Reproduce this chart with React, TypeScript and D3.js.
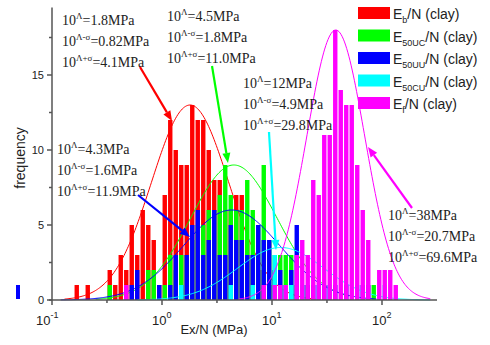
import React from 'react';
import * as d3 from 'd3';

// histogram bins: bin k spans log10(x) in [binStart + k*binStep, binStart + (k+1)*binStep]
const binStart = -1;
const binStep = 0.05;

// frequencies, 10 bins per row (row 1 starts at 10^-1, row 3 at 10^0, row 5 at 10^1, row 7 at 10^2)
const ebCounts = [
  0, 0, 0, 0, 1, 0, 1, 0, 0, 0,
  2, 1, 3, 2, 5, 3, 6, 5, 4, 1,
  7, 12, 10, 9, 9, 13, 12, 12, 10, 8,
  8, 6, 6, 7, 7, 4, 3, 2, 2, 1,
  2, 1, 0, 0, 0, 0, 0, 0, 0, 0,
  0, 0, 0, 0, 0, 0, 0, 0, 0, 0,
  0, 0, 0, 0,
];
const e50ucCounts = [
  0, 0, 0, 0, 0, 0, 0, 0, 0, 0,
  1, 0, 0, 0, 0, 0, 0, 2, 2, 0,
  1, 3, 2, 3, 3, 4, 5, 5, 6, 6,
  7, 9, 7, 6, 6, 8, 6, 5, 9, 4,
  3, 3, 3, 3, 1, 1, 1, 0, 0, 0,
  0, 0, 0, 0, 0, 0, 0, 0, 1, 0,
  0, 0, 0, 0,
];
const e50uuCounts = [
  0, 0, 0, 0, 0, 0, 0, 0, 0, 0,
  0, 0, 0, 0, 1, 2, 0, 0, 0, 1,
  0, 1, 3, 1, 3, 5, 6, 3, 4, 6,
  3, 3, 5, 4, 4, 3, 3, 5, 4, 4,
  2, 2, 1, 2, 5, 1, 1, 1, 1, 1,
  1, 1, 0, 1, 0, 0, 1, 1, 0, 0,
  0, 0, 0, 0,
];
const e50cuCounts = [
  0, 0, 0, 0, 0, 0, 0, 0, 0, 0,
  0, 0, 0, 0, 0, 0, 0, 0, 0, 0,
  0, 0, 0, 1, 0, 0, 0, 0, 0, 0,
  0, 0, 1, 0, 0, 0, 1, 0, 0, 0,
  3, 1, 1, 1, 0, 1, 0, 0, 1, 0,
  1, 0, 0, 0, 0, 1, 0, 0, 0, 0,
  1, 0, 0, 0,
];
const efCounts = [
  0, 0, 0, 0, 0, 0, 0, 0, 0, 0,
  0, 0, 0, 1, 0, 0, 0, 0, 0, 0,
  0, 0, 0, 0, 0, 0, 0, 0, 0, 0,
  0, 0, 0, 0, 0, 0, 0, 0, 1, 0,
  1, 1, 1, 0, 3, 4, 3, 8, 7, 11,
  11, 18, 14, 13, 13, 9, 6, 4, 0, 2,
  2, 2, 1, 0,
];

const seriesCounts = [ebCounts, e50ucCounts, e50uuCounts, e50cuCounts, efCounts];
const seriesSubs = ['b', '50UC', '50UU', '50CU', 'f'];
const seriesColors = ['#ff0000', '#00ff00', '#0000ff', '#00ffff', '#ff00ff'];

// lognormal fits (MPa) as written in the annotations
const fitMedian = [1.8, 4.5, 4.3, 12, 38];
const fitLower = [0.82, 1.8, 1.6, 4.9, 20.7];
const fitUpper = [4.1, 11.0, 11.9, 29.8, 69.6];
const fitPeak = [13, 9, 6, 3.5, 18];
const fitFrom = [0.13, 0.25, 0.12, 0.6, 5];
const fitTo = [25, 50, 90, 280, 280];

// annotation text blocks and their arrows
const noteAt = [[62, 25], [167, 21], [57, 154], [243, 88], [388, 220]];
const arrowFrom = [[140, 67], [212, 66], [138, 195], [269, 132], [412, 208]];
const arrowTo = [[172, 121], [228, 163], [190, 237], [276, 250], [368, 147]];

const xTicks = [0.1, 1, 10, 100];
const xMinorTicks = [0.316, 3.16, 31.6];
const yTicks = [0, 5, 10, 15];
const yMinorTicks = [2.5, 7.5, 12.5, 17.5];

const W = 490, H = 345;
const x = d3.scaleLog().domain([0.1, Math.pow(10, 2.5)]).range([52, 437]);
const y = d3.scaleLinear().domain([0, 19.5]).range([300, 7.5]);

const sans = 'Arial, "Liberation Sans", sans-serif';
const serif = '"Times New Roman", "Liberation Serif", serif';

function Arrow({ from, to, color }: { from: number[]; to: number[]; color: string }) {
  const dx = to[0] - from[0], dy = to[1] - from[1];
  const len = Math.sqrt(dx * dx + dy * dy);
  const ux = dx / len, uy = dy / len;
  const hl = 10, hw = 4;
  const bx = to[0] - ux * hl, by = to[1] - uy * hl;
  const pts = [
    [to[0], to[1]],
    [bx - uy * hw, by + ux * hw],
    [bx + uy * hw, by - ux * hw],
  ].map(p => p.join(',')).join(' ');
  return (
    <g>
      <line x1={from[0]} y1={from[1]} x2={bx} y2={by} stroke={color} strokeWidth={2.2} />
      <polygon points={pts} fill={color} />
    </g>
  );
}

function Note({ at, med, lo, hi }: { at: number[]; med: number; lo: number; hi: number }) {
  const rows = [['Λ', med], ['Λ-σ', lo], ['Λ+σ', hi]];
  return (
    <g fontFamily={serif} fontSize={14} fill="#222">
      {rows.map((r, i) => (
        <text key={i} x={at[0]} y={at[1] + i * 21}>
          10<tspan fontSize={9} dy={-6}>{r[0]}</tspan>
          <tspan dy={6}>={String(r[1] === 11 ? '11.0' : r[1])}MPa</tspan>
        </text>
      ))}
    </g>
  );
}

export default function App() {
  const line = d3.line<number[]>().x(d => d[0]).y(d => d[1]);

  const bars = (counts: number[], color: string) =>
    counts.map((c, k) => {
      if (!c) return null;
      const lo = binStart + k * binStep;
      const x0 = x(Math.pow(10, lo + binStep * 0.1));
      const x1 = x(Math.pow(10, lo + binStep * 0.9));
      return <rect key={k} x={x0} y={y(c)} width={x1 - x0} height={y(0) - y(c)} fill={color} />;
    });

  const curve = (s: number) => {
    const mu = Math.log10(fitMedian[s]);
    const sd = (Math.log10(fitUpper[s]) - Math.log10(fitLower[s])) / 2;
    const pts = d3.range(Math.log10(fitFrom[s]), Math.log10(fitTo[s]), 0.01).map(l => [
      x(Math.pow(10, l)),
      y(fitPeak[s] * Math.exp(-((l - mu) * (l - mu)) / (2 * sd * sd))),
    ]);
    return <path d={line(pts) || ''} fill="none" stroke={seriesColors[s]} strokeWidth={1} />;
  };

  return (
    <svg width={W} height={H} style={{ position: 'absolute', left: 0, top: 0, background: '#fff' }}>
      {seriesCounts.map((counts, s) => (
        <g key={s}>
          {bars(counts, seriesColors[s])}
          {curve(s)}
        </g>
      ))}

      {/* axes */}
      <g stroke="#555" strokeWidth={1.5}>
        <line x1={x(0.1)} y1={y(19.5)} x2={x(0.1)} y2={y(0)} />
        <line x1={x(0.1) - 3} y1={y(0)} x2={x(Math.pow(10, 2.5))} y2={y(0)} />
        {yTicks.map(t => <line key={t} x1={x(0.1) - 5} x2={x(0.1)} y1={y(t)} y2={y(t)} />)}
        {yMinorTicks.map(t => <line key={t} x1={x(0.1) - 3} x2={x(0.1)} y1={y(t)} y2={y(t)} />)}
        {xTicks.map(t => <line key={t} x1={x(t)} x2={x(t)} y1={y(0)} y2={y(0) + 5} />)}
        {xMinorTicks.map(t => <line key={t} x1={x(t)} x2={x(t)} y1={y(0)} y2={y(0) + 3} />)}
      </g>
      <g fontFamily={sans} fontSize={11} fill="#222" textAnchor="end">
        {yTicks.map(t => <text key={t} x={x(0.1) - 8} y={y(t) + 4}>{t}</text>)}
      </g>
      <g fontFamily={sans} fontSize={13} fill="#222">
        {xTicks.map(t => {
          const e = Math.round(Math.log10(t));
          return (
            <text key={t} x={x(t) + (e < 0 ? -16 : -10)} y={325}>
              10<tspan fontSize={9} dy={-7}>{e}</tspan>
            </text>
          );
        })}
      </g>
      <text x={214} y={334} fontFamily={sans} fontSize={13} fill="#222" textAnchor="middle">Ex/N (MPa)</text>
      <text transform="translate(25,158) rotate(-90)" fontFamily={sans} fontSize={14} fill="#222" textAnchor="middle">frequency</text>
      <rect x={16} y={285} width={4} height={14} fill="#0000ff" />

      {/* annotations */}
      {seriesColors.map((c, s) => (
        <g key={s}>
          <Note at={noteAt[s]} med={fitMedian[s]} lo={fitLower[s]} hi={fitUpper[s]} />
          <Arrow from={arrowFrom[s]} to={arrowTo[s]} color={c} />
        </g>
      ))}

      {/* legend */}
      <g fontFamily={sans} fontSize={14} fill="#222">
        {seriesSubs.map((sub, s) => (
          <g key={s} transform={`translate(358,${7 + s * 22.5})`}>
            <rect width={32} height={12} fill={seriesColors[s]} />
            <text x={35} y={12}>
              E<tspan fontSize={9} dy={4}>{sub}</tspan>
              <tspan dy={-4}>/N (clay)</tspan>
            </text>
          </g>
        ))}
      </g>
    </svg>
  );
}
